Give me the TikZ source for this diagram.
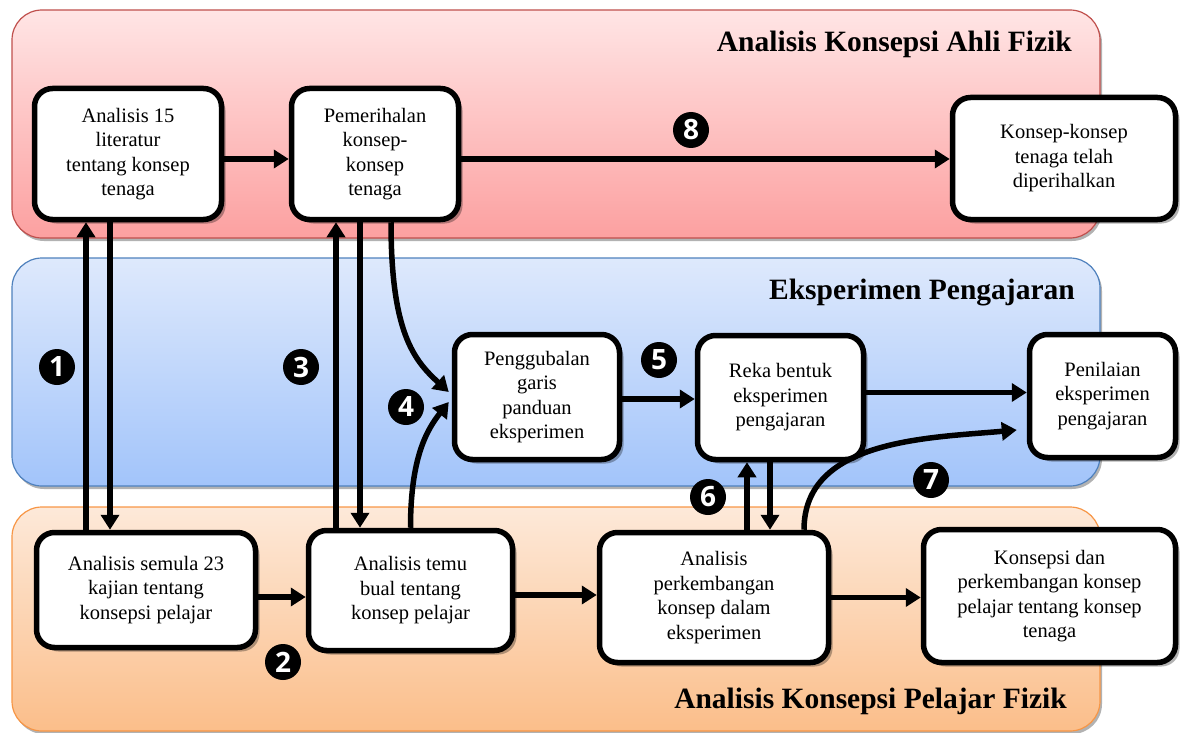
\documentclass[tikz,border=0pt]{standalone}
\usepackage{fontspec}
\setmainfont{Liberation Serif}
\newfontfamily\numfont{Open Sans}
\usetikzlibrary{arrows.meta,shadows}
\definecolor{redtop}{RGB}{255,229,229}
\definecolor{redbot}{RGB}{252,160,160}
\definecolor{redline}{RGB}{192,80,77}
\definecolor{bluetop}{RGB}{222,233,252}
\definecolor{bluebot}{RGB}{162,196,250}
\definecolor{blueline}{RGB}{79,129,189}
\definecolor{orgtop}{RGB}{253,233,217}
\definecolor{orgbot}{RGB}{251,190,138}
\definecolor{orgline}{RGB}{247,150,70}
\begin{document}
\begin{tikzpicture}[x=1pt,y=-1pt,
  panel/.style={line width=1.2pt, rounded corners=30pt,
    drop shadow={shadow xshift=2pt,shadow yshift=-3pt,opacity=0.3,fill=black}},
  box/.style={draw=black, line width=5.5pt, fill=white, rounded corners=18pt,
    align=center, inner sep=0pt, font=\fontsize{20.5}{24.5}\selectfont,
    drop shadow={shadow xshift=4pt,shadow yshift=-4pt,opacity=0.3,fill=black}},
  paneltitle/.style={anchor=base east, inner sep=0pt, font=\fontsize{29.5}{31}\selectfont\bfseries},
  num/.style={circle, fill=black, minimum size=36pt, inner sep=0pt, text=white,
    font=\numfont\bfseries\fontsize{28}{28}\selectfont},
  arr/.style={line width=5.5pt, -{Triangle[length=15pt,width=18pt]}}
]
\useasboundingbox (0,0) rectangle (1181,733);
% panels
\path[panel, draw=redline, top color=redtop, bottom color=redbot] (12,10) rectangle (1100,238);
\path[panel, draw=blueline, top color=bluetop, bottom color=bluebot] (12,258) rectangle (1100,486);
\path[panel, draw=orgline, top color=orgtop, bottom color=orgbot] (12,507) rectangle (1100,731);
% titles
\node[paneltitle] (T1) at (1072,52) {Analisis Konsepsi Ahli Fizik};
\node[paneltitle] (T2) at (1075,299) {Eksperimen Pengajaran};
\node[paneltitle] (T3) at (1067,708) {Analisis Konsepsi Pelajar Fizik};
% boxes
\node[box, minimum width=187pt, minimum height=131pt] (A1) at (128,154) {Analisis 15\\literatur\\tentang konsep\\tenaga};
\node[box, minimum width=167pt, minimum height=131pt] (A2) at (375,154) {Pemerihalan\\konsep-\\konsep\\tenaga};
\node[box, minimum width=223pt, minimum height=122pt] (A3) at (1064,158.5) {Konsep-konsep\\tenaga telah\\diperihalkan};
\node[box, minimum width=165pt, minimum height=125pt] (B1) at (537,397) {Penggubalan\\garis\\panduan\\eksperimen};
\node[box, minimum width=166pt, minimum height=124pt] (B2) at (780.5,397.5) {Reka bentuk\\eksperimen\\pengajaran};
\node[box, minimum width=146pt, minimum height=123pt] (B3) at (1102.5,396) {Penilaian\\eksperimen\\pengajaran};
\node[box, minimum width=219pt, minimum height=115pt] (C1) at (146,590) {Analisis semula 23\\kajian tentang\\konsepsi pelajar};
\node[box, minimum width=204pt, minimum height=120pt] (C2) at (410.5,590.5) {Analisis temu\\bual tentang\\konsep pelajar};
\node[box, minimum width=229pt, minimum height=130pt] (C3) at (714,597.5) {Analisis\\perkembangan\\konsep dalam\\eksperimen};
\node[box, minimum width=252pt, minimum height=133pt] (C4) at (1049.5,596) {Konsepsi dan\\perkembangan konsep\\pelajar tentang konsep\\tenaga};
% connectors
\draw[arr] ([yshift=-5pt]A1.east) -- ([yshift=-5pt]A2.west);
\draw[arr] ([yshift=-5pt]A2.east) -- ([yshift=-5pt]A2.east -| A3.west);
\draw[arr] ([xshift=-60pt]C1.north) -- ([xshift=-60pt]C1.north |- A1.south);
\draw[arr] ([xshift=-18pt]A1.south) -- ([xshift=-18pt]A1.south |- C1.north);
\draw[arr] ([xshift=-39pt]A2.south |- C2.north) -- ([xshift=-39pt]A2.south);
\draw[arr] ([xshift=-15pt]A2.south) -- ([xshift=-15pt]A2.south |- C2.north);
\draw[arr] ([xshift=16pt]A2.south) .. controls +(0,110) and +(-35,-32) .. ([yshift=5pt,xshift=-3pt]B1.west);
\draw[arr] (C2.north) .. controls +(0,-70) and +(-22,28) .. ([yshift=-5pt,xshift=-3pt]B1.west);
\draw[arr] ([yshift=-2pt]B1.east) -- ([yshift=-2pt]B1.east -| B2.west);
\draw[arr] ([yshift=5pt]B2.east) -- ([yshift=5pt]B2.east -| B3.west);
\draw[arr] ([yshift=-7pt]C1.east) -- ([yshift=-7pt]C1.east -| C2.west);
\draw[arr] ([yshift=-4.5pt]C2.east) -- ([yshift=-4.5pt]C2.east -| C3.west);
\draw[arr] (C3.east) -- (C3.east -| C4.west);
\draw[arr] ([xshift=33pt]C3.north) -- ([xshift=33pt]C3.north |- B2.south);
\draw[arr] ([xshift=-10.5pt]B2.south) -- ([xshift=-10.5pt]B2.south |- C3.north);
\draw[arr] ([xshift=90pt]C3.north) .. controls +(0,-90) and +(-90,8) .. ([xshift=-10pt,yshift=-34pt]B3.west);
% number labels
\node[num] (n1) at (57,367) {1};
\node[num] (n2) at (283,662) {2};
\node[num] (n3) at (301,367) {3};
\node[num] (n4) at (406,407) {4};
\node[num] (n5) at (659,360) {5};
\node[num] (n6) at (708,497) {6};
\node[num] (n7) at (931,480) {7};
\node[num] (n8) at (691,130) {8};
\end{tikzpicture}
\end{document}
